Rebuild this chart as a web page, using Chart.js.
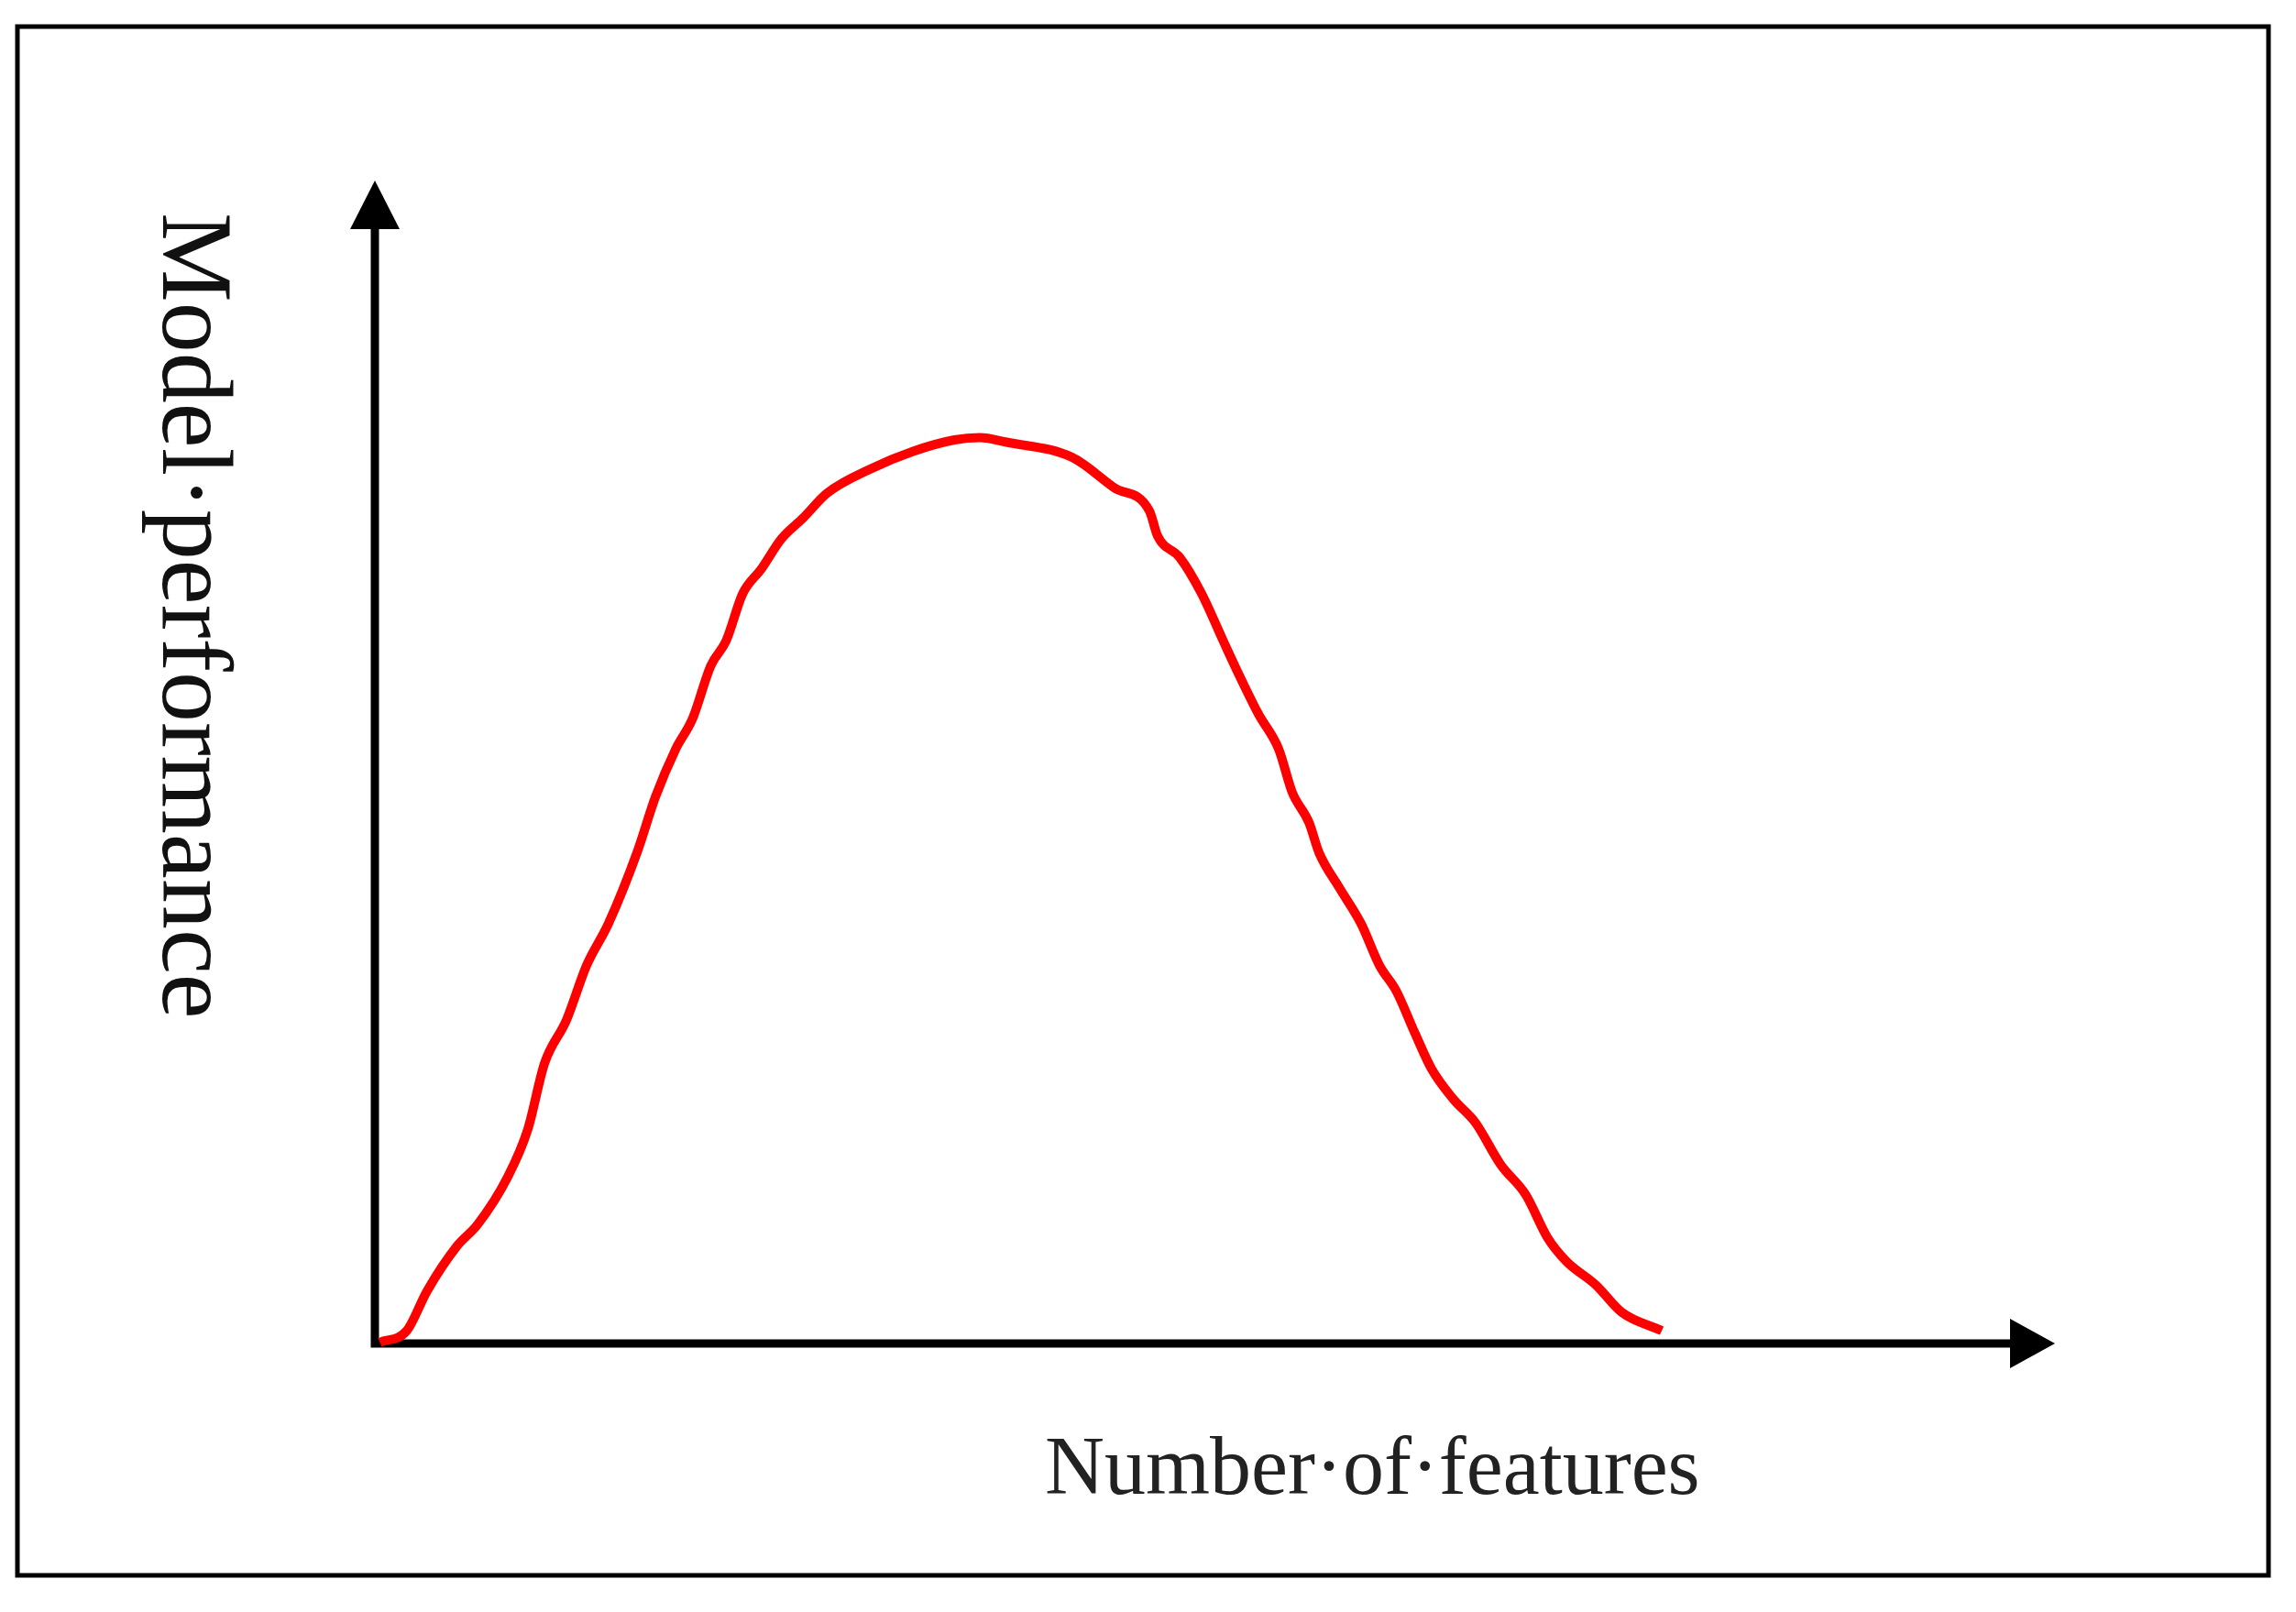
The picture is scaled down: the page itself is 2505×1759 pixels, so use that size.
<!DOCTYPE html>
<html>
<head>
<meta charset="utf-8">
<script src="https://cdn.jsdelivr.net/npm/chart.js@4/dist/chart.umd.min.js"></script>
<style>
  html, body { margin:0; padding:0; background:#fff; }
  canvas { display:block; }
</style>
</head>
<body>
<canvas id="grafico" width="2505" height="1759"></canvas>
<script>
// -------- DADOS --------
const xTitle = "Number·of·features";
const yTitle = "Model·performance";

const numFeatures = [0.3, 1.9, 3.1, 4.9, 6.1, 7.9, 9.1, 10.1, 11.4, 12.6, 13.9, 15.6, 16.7, 17.9, 18.9,
  20.0, 20.9, 21.9, 23.0, 24.2, 25.5, 26.9, 29.5, 32.0, 34.5, 36.0, 37.6, 41.5, 44.0, 46.1, 46.6,
  47.9, 49.2, 50.5, 51.5, 52.6, 53.8, 54.6, 55.6, 56.2, 57.4, 58.7, 59.8, 60.8, 61.9, 62.9, 64.2,
  65.5, 67.0, 68.5, 69.8, 70.9, 72.7, 74.2, 76.6];

const performance = [0.1, 1.1, 4.5, 8.4, 10.2, 14.3, 18.4, 24.1, 27.8, 32.5, 36.1, 42.2, 47.0, 51.1, 53.7,
  58.3, 60.4, 64.5, 66.6, 69.2, 71.0, 73.1, 75.2, 76.7, 77.7, 77.9, 77.5, 76.2, 73.6, 71.6, 69.4,
  67.6, 64.5, 60.4, 57.3, 54.1, 51.1, 47.4, 44.8, 42.2, 39.2, 36.1, 32.5, 30.3, 26.7, 23.6, 21.0,
  19.0, 15.4, 12.8, 9.1, 7.1, 5.0, 2.7, 1.1];

// -------- MOLDURA, EIXOS E TEXTOS --------
const desenhoFigura = {
  id: "desenhoFigura",
  beforeDatasetsDraw(chart){
    const ctx = chart.ctx;
    const x = chart.scales.x, y = chart.scales.y;
    const x0 = x.getPixelForValue(0), x1 = x.getPixelForValue(100);
    const y0 = y.getPixelForValue(0), y1 = y.getPixelForValue(100);
    const ponta = 53, meia = 27;

    ctx.save();
    // moldura
    ctx.strokeStyle = "#000";
    ctx.lineWidth = 5;
    ctx.strokeRect(19, 29, 2456, 1690);

    // eixos
    ctx.lineWidth = 9;
    ctx.beginPath();
    ctx.moveTo(x0, y0 + 4.5);
    ctx.lineTo(x0, y1 + ponta);
    ctx.moveTo(x0 - 4.5, y0);
    ctx.lineTo(x1 - ponta + 4, y0);
    ctx.stroke();

    // setas
    ctx.fillStyle = "#000";
    ctx.beginPath();
    ctx.moveTo(x0, y1);
    ctx.lineTo(x0 - meia, y1 + ponta);
    ctx.lineTo(x0 + meia, y1 + ponta);
    ctx.closePath();
    ctx.fill();
    ctx.beginPath();
    ctx.moveTo(x1, y0);
    ctx.lineTo(x1 - 49, y0 - meia);
    ctx.lineTo(x1 - 49, y0 + meia);
    ctx.closePath();
    ctx.fill();

    // titulos
    ctx.fillStyle = "#222";
    ctx.textBaseline = "alphabetic";
    ctx.textAlign = "left";
    ctx.font = "90px 'Liberation Serif', 'Times New Roman', serif";
    ctx.fillText(xTitle, 1140, 1630);

    ctx.translate(178, 232);
    ctx.rotate(Math.PI / 2);
    ctx.fillStyle = "#111";
    ctx.font = "110px 'Liberation Serif', 'Times New Roman', serif";
    ctx.fillText(yTitle, 0, 0);
    ctx.restore();
  }
};

// -------- GRAFICO --------
const pontos = numFeatures.map((v, i) => ({x: v, y: performance[i]}));

new Chart(document.getElementById("grafico"), {
  type: "line",
  data: {
    datasets: [{
      data: pontos,
      borderColor: "#ff0000",
      borderWidth: 10,
      pointRadius: 0,
      cubicInterpolationMode: "monotone",
      clip: false,
      fill: false
    }]
  },
  options: {
    responsive: false,
    animation: false,
    layout: { padding: { left: 409, right: 263, top: 197, bottom: 293 } },
    plugins: { legend: { display: false }, tooltip: { enabled: false } },
    scales: {
      x: { type: "linear", min: 0, max: 100, display: false },
      y: { type: "linear", min: 0, max: 100, display: false }
    }
  },
  plugins: [desenhoFigura]
});
</script>
</body>
</html>
